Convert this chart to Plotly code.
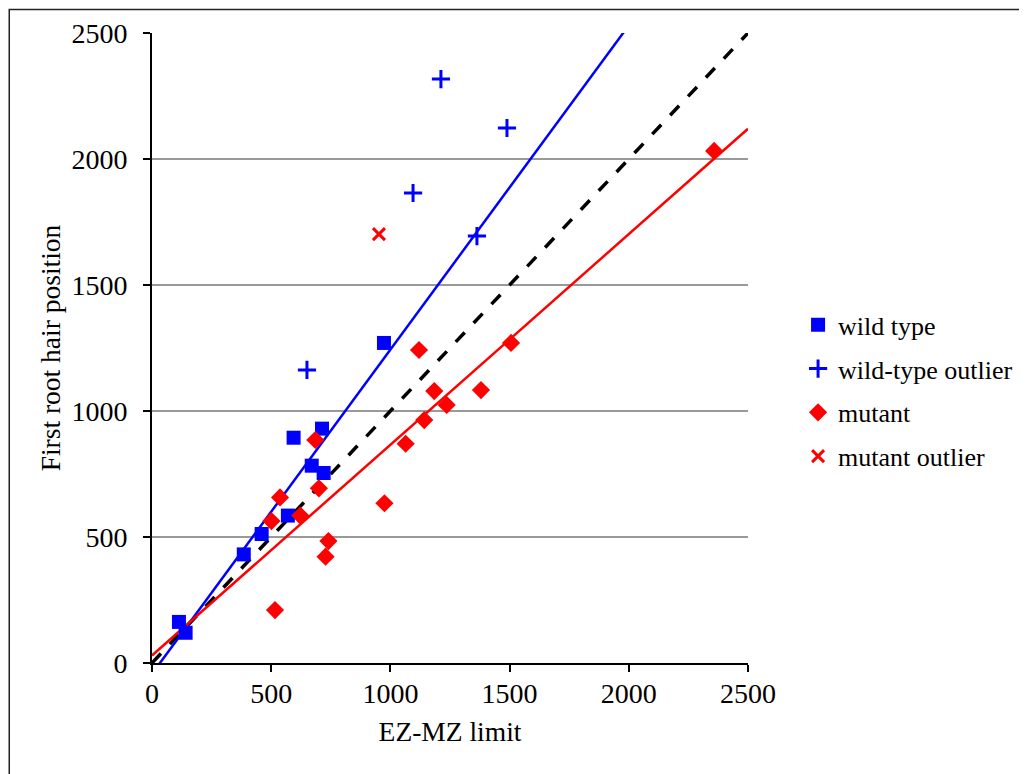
import plotly.graph_objects as go

# ---- data ----
wt_x = [113, 141, 385, 460, 570, 594, 670, 713, 720, 973]
wt_y = [163, 120, 431, 512, 585, 894, 783, 930, 754, 1270]

wt_out_x = [650, 1095, 1212, 1363, 1489]
wt_out_y = [1163, 1865, 2317, 1694, 2123]

mut_x = [516, 501, 537, 622, 685, 700, 728, 740, 975, 1064, 1120, 1142, 1184, 1236, 1380, 1506, 2358]
mut_y = [210, 563, 657, 585, 885, 693, 422, 484, 634, 870, 1242, 964, 1079, 1024, 1083, 1270, 2032]

mut_out_x = [952]
mut_out_y = [1702]

# trend lines (slope, intercept)
wt_fit = (1.2867, -43.0)
mut_fit = (0.836, 30.0)
line_x = [0, 2500]

ticks = [0, 500, 1000, 1500, 2000, 2500]

FONT = "Liberation Serif"
FS_AX = 28
FS_TITLE = 27.5
FS_LEG = 26

fig = go.Figure()

# lines
fig.add_trace(go.Scatter(x=line_x, y=line_x, mode="lines",
                         line=dict(color="black", width=3.5, dash="13px,13px"),
                         showlegend=False, hoverinfo="skip"))
fig.add_trace(go.Scatter(x=line_x, y=[wt_fit[0] * v + wt_fit[1] for v in line_x], mode="lines",
                         line=dict(color="#0000ff", width=2.5), showlegend=False, hoverinfo="skip"))
fig.add_trace(go.Scatter(x=line_x, y=[mut_fit[0] * v + mut_fit[1] for v in line_x], mode="lines",
                         line=dict(color="#ff0000", width=2.5), showlegend=False, hoverinfo="skip"))

# markers
fig.add_trace(go.Scatter(x=wt_x, y=wt_y, mode="markers", name="wild type", legendgroup="a",
                         marker=dict(symbol="square", size=14, color="#0000ff")))
fig.add_trace(go.Scatter(x=wt_out_x, y=wt_out_y, mode="markers", name="wild-type outlier", legendgroup="b",
                         marker=dict(symbol="cross-thin", size=13, color="#0000ff",
                                     line=dict(color="#0000ff", width=3))))
fig.add_trace(go.Scatter(x=mut_x, y=mut_y, mode="markers", name="mutant", legendgroup="c",
                         marker=dict(symbol="diamond", size=14, color="#ff0000")))
fig.add_trace(go.Scatter(x=mut_out_x, y=mut_out_y, mode="markers", name="mutant outlier", legendgroup="d",
                         marker=dict(symbol="x-thin", size=12, color="#ff0000",
                                     line=dict(color="#ff0000", width=3))))

# outer frame (partially cropped in the reference)
fig.add_shape(type="rect", xref="paper", yref="paper",
              x0=-0.2395, x1=1.48, y0=-0.19, y1=1.0375,
              line=dict(color="#222222", width=1.5), layer="below")

axis_common = dict(
    range=[0, 2500], tickvals=ticks, showline=True, linecolor="black", linewidth=2,
    ticks="outside", ticklen=7, tickwidth=2, tickcolor="black", zeroline=False,
    tickfont=dict(family=FONT, size=FS_AX, color="black"), automargin=False,
)

fig.update_xaxes(title=dict(text="EZ-MZ limit", font=dict(family=FONT, size=FS_TITLE, color="black"), standoff=14),
                 showgrid=False, ticklabelstandoff=-3, **axis_common)
fig.update_yaxes(title=dict(text="First root hair position", font=dict(family=FONT, size=FS_TITLE, color="black"), standoff=3),
                 showgrid=True, gridcolor="#999999", gridwidth=1.5, ticklabelstandoff=10, **axis_common)

fig.update_layout(
    width=1019, height=766,
    margin=dict(l=144, r=279, t=25, b=111, autoexpand=False),
    plot_bgcolor="white", paper_bgcolor="white",
    font=dict(family=FONT, size=FS_LEG, color="black"),
    legend=dict(x=1.084, y=0.432, xanchor="left", yanchor="middle",
                font=dict(family=FONT, size=FS_LEG, color="black"),
                tracegroupgap=7, bgcolor="rgba(0,0,0,0)"),
)

fig.write_html("out.html")
